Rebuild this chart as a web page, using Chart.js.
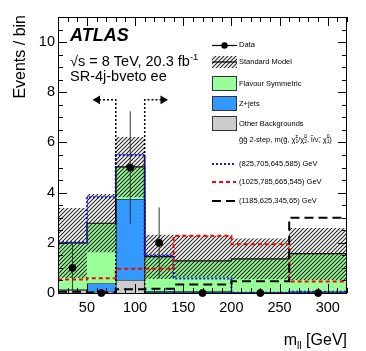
<!DOCTYPE html>
<html>
<head>
<meta charset="utf-8">
<script src="https://cdn.jsdelivr.net/npm/chart.js@4"></script>
<style>
  html, body { margin: 0; padding: 0; background: #fff; }
  canvas { display: block; }
</style>
</head>
<body>
<canvas id="myChart" width="366" height="351"></canvas>
<script>
// bins in m_ll [GeV]
const binEdges = [20, 50, 80, 110, 140, 200, 260, 320];
// background stack
const otherBkg   = [0.12, 0.05, 0.52, 0.03, 0.02, 0.02, 0.03];
const zJets      = [0.02, 0.33, 3.23, 0.05, 0.05, 0.01, 0.03];
const flavourSym = [1.86, 2.40, 1.28, 1.37, 1.21, 1.33, 1.51];
// SM uncertainty band
const bandLow  = [0.60, 1.62, 3.82, 0.56, 0.62, 0.55, 0.52];
const bandHigh = [3.39, 3.95, 6.22, 2.32, 2.28, 2.17, 2.59];
// signal points
const sigBlue  = [2.02, 3.82, 5.50, 1.49, 0.58, 0.01, 0.05];
const sigRed   = [0.54, 0.59, 0.97, 0.97, 2.28, 1.94, 0.46];
const sigBlack = [0.05, 0.02, 0.15, 0.17, 0.34, 0.47, 3.00];
// data
const dataX   = [35, 65, 95, 125, 170, 230, 290];
const dataY   = [1, 0, 5, 2, 0, 0, 0];
const dataErr = [1, 0, 2.24, 1.41, 0, 0, 0];
// signal window arrows
const arrowLevel = 7.7;
const arrowFrom = [80, 110];
const arrowTo = [61, 129];
// axis ticks
const xTickLabels = [50, 100, 150, 200, 250, 300];
const yTickLabels = [0, 2, 4, 6, 8, 10];

const FONT = "'Liberation Sans', Arial, Helvetica, sans-serif";
const cGreen = "rgb(153,255,153)";
const cBlue = "rgb(51,153,255)";
const cGrey = "rgb(204,204,204)";

function steps(vals) {
  const pts = vals.map((v, i) => ({ x: binEdges[i], y: v }));
  pts.push({ x: binEdges[binEdges.length - 1], y: vals[vals.length - 1] });
  return pts;
}

const stackOther = otherBkg.slice();
const stackZ = otherBkg.map((v, i) => v + zJets[i]);
const stackFS = stackZ.map((v, i) => v + flavourSym[i]);

function makeHatch() {
  const s = 4;
  const c = document.createElement("canvas");
  c.width = s; c.height = s;
  const g = c.getContext("2d");
  g.strokeStyle = "rgba(25,25,25,0.95)";
  g.lineWidth = 1.1;
  g.beginPath();
  g.moveTo(0, s); g.lineTo(s, 0);
  g.moveTo(-1, 1); g.lineTo(1, -1);
  g.moveTo(s - 1, s + 1); g.lineTo(s + 1, s - 1);
  g.stroke();
  return g.createPattern(c, "repeat");
}
const hatch = makeHatch();

function histLine(vals, extra) {
  return Object.assign({
    type: "line",
    data: steps(vals),
    stepped: "before",
    pointRadius: 0,
    borderWidth: 1.2,
    borderColor: "#000",
    fill: false,
  }, extra);
}

const datasets = [
  histLine(stackOther, { fill: "origin", backgroundColor: cGrey, order: 20 }),          // 0
  histLine(stackZ, { fill: 0, backgroundColor: cBlue, order: 19 }),                     // 1
  histLine(stackFS, { fill: 1, backgroundColor: cGreen, order: 18 }),                   // 2
  histLine(bandLow, { borderWidth: 0, borderColor: "rgba(0,0,0,0)", order: 17 }),       // 3
  histLine(bandHigh, { fill: 3, borderWidth: 0, borderColor: "rgba(0,0,0,0)", backgroundColor: hatch, order: 16 }), // 4
  histLine(sigBlue, { borderColor: "rgb(20,20,240)", borderWidth: 2, borderDash: [2, 2], order: 10 }),
  histLine(sigRed, { borderColor: "rgb(255,0,0)", borderWidth: 2, borderDash: [4, 3], order: 9 }),
  histLine(sigBlack, { borderColor: "#000", borderWidth: 2, borderDash: [9, 5], order: 8 }),
];

arrowFrom.forEach((x0, i) => {
  datasets.push({
    type: "line",
    data: [{ x: x0, y: 0 }, { x: x0, y: arrowLevel }, { x: arrowTo[i], y: arrowLevel }],
    borderColor: "#000",
    borderWidth: 1.5,
    borderDash: [2, 2],
    pointRadius: [0, 0, 3.5],
    pointStyle: "triangle",
    rotation: arrowTo[i] < x0 ? -90 : 90,
    pointBackgroundColor: "#000",
    pointBorderColor: "#000",
    fill: false,
    order: 5,
  });
});

dataX.forEach((x, i) => {
  if (dataErr[i] > 0) {
    datasets.push({
      type: "line",
      data: [{ x: x, y: dataY[i] - dataErr[i] }, { x: x, y: dataY[i] + dataErr[i] }],
      borderColor: "#333",
      borderWidth: 1,
      pointRadius: 0,
      fill: false,
      order: 3,
    });
  }
});

datasets.push({
  type: "line",
  data: dataX.map((x, i) => ({ x: x, y: dataY[i] })),
  showLine: false,
  pointRadius: 3.5,
  pointBackgroundColor: "#000",
  pointBorderColor: "#000",
  clip: false,
  order: 1,
});

function drawRich(ctx, parts, x, y, size, align) {
  const small = size * 0.65;
  const w = (p) => {
    if (p[1] === "n") { ctx.font = size + "px " + FONT; return ctx.measureText(p[0]).width; }
    ctx.font = small + "px " + FONT;
    if (p[1] === "s") return Math.max(ctx.measureText(p[0][0]).width, ctx.measureText(p[0][1]).width);
    return ctx.measureText(p[0]).width;
  };
  let total = 0;
  parts.forEach((p) => { total += w(p); });
  let cx = align === "right" ? x - total : x;
  ctx.textAlign = "left";
  ctx.textBaseline = "alphabetic";
  parts.forEach((p) => {
    const pw = w(p);
    if (p[1] === "n") ctx.fillText(p[0], cx, y);
    else if (p[1] === "b") ctx.fillText(p[0], cx, y + size * 0.25);
    else if (p[1] === "p") ctx.fillText(p[0], cx, y - size * 0.42);
    else {
      ctx.fillText(p[0][0], cx, y + size * 0.25);
      ctx.fillText(p[0][1], cx, y - size * 0.42);
    }
    cx += pw;
  });
}

const atlasDecor = {
  id: "atlasDecor",
  afterDraw(chart) {
    const ctx = chart.ctx;
    const a = chart.chartArea;
    const xs = chart.scales.x, ys = chart.scales.y;
    ctx.save();
    ctx.strokeStyle = "#000";
    ctx.fillStyle = "#000";
    ctx.lineWidth = 1;
    // frame
    ctx.strokeRect(a.left + 0.5, a.top + 0.5, a.right - a.left - 1, a.bottom - a.top);
    // inward ticks on all sides
    ctx.beginPath();
    for (let v = 20; v <= 320; v += 10) {
      const px = Math.round(xs.getPixelForValue(v)) + 0.5;
      const len = v % 50 === 0 ? 9 : 5;
      ctx.moveTo(px, a.bottom); ctx.lineTo(px, a.bottom - len);
      ctx.moveTo(px, a.top); ctx.lineTo(px, a.top + len);
    }
    for (let v = 0; v <= 11; v += 0.5) {
      const py = Math.round(ys.getPixelForValue(v)) + 0.5;
      const len = v % 2 === 0 ? 9 : 5;
      ctx.moveTo(a.left, py); ctx.lineTo(a.left + len, py);
      ctx.moveTo(a.right, py); ctx.lineTo(a.right - len, py);
    }
    ctx.stroke();

    // axis titles
    ctx.save();
    ctx.translate(25, 15);
    ctx.rotate(-Math.PI / 2);
    ctx.font = "16px " + FONT;
    ctx.textAlign = "right";
    ctx.textBaseline = "alphabetic";
    ctx.fillText("Events / bin", 0, 0);
    ctx.restore();
    drawRich(ctx, [["m", "n"], ["ll", "b"], [" [GeV]", "n"]], 347, 345, 16, "right");

    // ATLAS labels
    ctx.font = "bold italic 18px " + FONT;
    ctx.textAlign = "left";
    ctx.textBaseline = "alphabetic";
    ctx.fillText("ATLAS", 70, 41);
    drawRich(ctx, [["\u221As = 8 TeV, 20.3 fb", "n"], ["-1", "p"]], 70, 66, 14.5);
    ctx.font = "14.5px " + FONT;
    ctx.fillText("SR-4j-bveto ee", 70, 81);

    // legend
    const LX = 212, LW = 25, TX = 239;
    const fs = 7.5;
    const label = (t, y) => {
      ctx.font = fs + "px " + FONT;
      ctx.textAlign = "left";
      ctx.textBaseline = "middle";
      ctx.fillStyle = "#000";
      ctx.fillText(t, TX, y);
    };
    // Data
    ctx.beginPath();
    ctx.moveTo(LX, 45.5); ctx.lineTo(LX + LW, 45.5);
    ctx.lineWidth = 1.2; ctx.stroke();
    ctx.beginPath(); ctx.arc(LX + LW / 2, 45.5, 3.2, 0, 2 * Math.PI); ctx.fill();
    label("Data", 45);
    // Standard Model
    ctx.fillStyle = hatch;
    ctx.fillRect(LX, 56, LW, 12);
    ctx.fillStyle = "#000";
    ctx.beginPath(); ctx.moveTo(LX, 62); ctx.lineTo(LX + LW, 62); ctx.lineWidth = 1.2; ctx.stroke();
    label("Standard Model", 62);
    // boxes
    const box = (y, col, t) => {
      ctx.fillStyle = col;
      ctx.fillRect(LX, y, LW, 14);
      ctx.strokeStyle = "#333"; ctx.lineWidth = 1;
      ctx.strokeRect(LX + 0.5, y + 0.5, LW - 1, 14);
      label(t, y + 7.5);
    };
    box(76, cGreen, "Flavour Symmetric");
    box(96, cBlue, "Z+jets");
    box(116, cGrey, "Other Backgrounds");
    ctx.fillStyle = "#000";
    drawRich(ctx, [
      ["g\u0303g\u0303 2-step, m(g\u0303, \u03C7\u0303", "n"], [["1", "\u00B1"], "s"],
      ["/\u03C7\u0303", "n"], [["2", "0"], "s"],
      [", l\u0303/\u03BD\u0303, \u03C7\u0303", "n"], [["1", "0"], "s"], [")", "n"]
    ], TX, 141.5, fs);
    const sigLeg = (y, col, dash, t) => {
      ctx.save();
      ctx.strokeStyle = col; ctx.lineWidth = 2; ctx.setLineDash(dash);
      ctx.beginPath(); ctx.moveTo(LX, y); ctx.lineTo(LX + LW - 1, y); ctx.stroke();
      ctx.restore();
      label(t, y);
    };
    sigLeg(164, "rgb(20,20,240)", [2, 2], "(825,705,645,585) GeV");
    sigLeg(182, "rgb(255,0,0)", [4, 3], "(1025,785,665,545) GeV");
    sigLeg(201, "#000", [9, 5], "(1185,625,345,65) GeV");
    ctx.restore();
  },
};

const ctx = document.getElementById("myChart").getContext("2d");
new Chart(ctx, {
  type: "line",
  data: { datasets: datasets },
  options: {
    responsive: false,
    animation: false,
    devicePixelRatio: 1,
    layout: { padding: { top: 17, right: 19, left: 0, bottom: 0 } },
    plugins: { legend: { display: false }, tooltip: { enabled: false } },
    events: [],
    scales: {
      x: {
        type: "linear",
        min: 20,
        max: 320,
        grid: { display: false, drawTicks: false },
        border: { display: false },
        afterBuildTicks: (s) => { s.ticks = xTickLabels.map((v) => ({ value: v })); },
        afterFit: (s) => { s.height = 58; },
        ticks: { color: "#000", font: { family: FONT, size: 14.5 }, padding: 6, maxRotation: 0 },
      },
      y: {
        type: "linear",
        min: 0,
        max: 11,
        grid: { display: false, drawTicks: false },
        border: { display: false },
        afterBuildTicks: (s) => { s.ticks = yTickLabels.map((v) => ({ value: v })); },
        afterFit: (s) => { s.width = 58; },
        ticks: { color: "#000", font: { family: FONT, size: 14.5 }, padding: 3 },
      },
    },
  },
  plugins: [atlasDecor],
});
</script>
</body>
</html>
